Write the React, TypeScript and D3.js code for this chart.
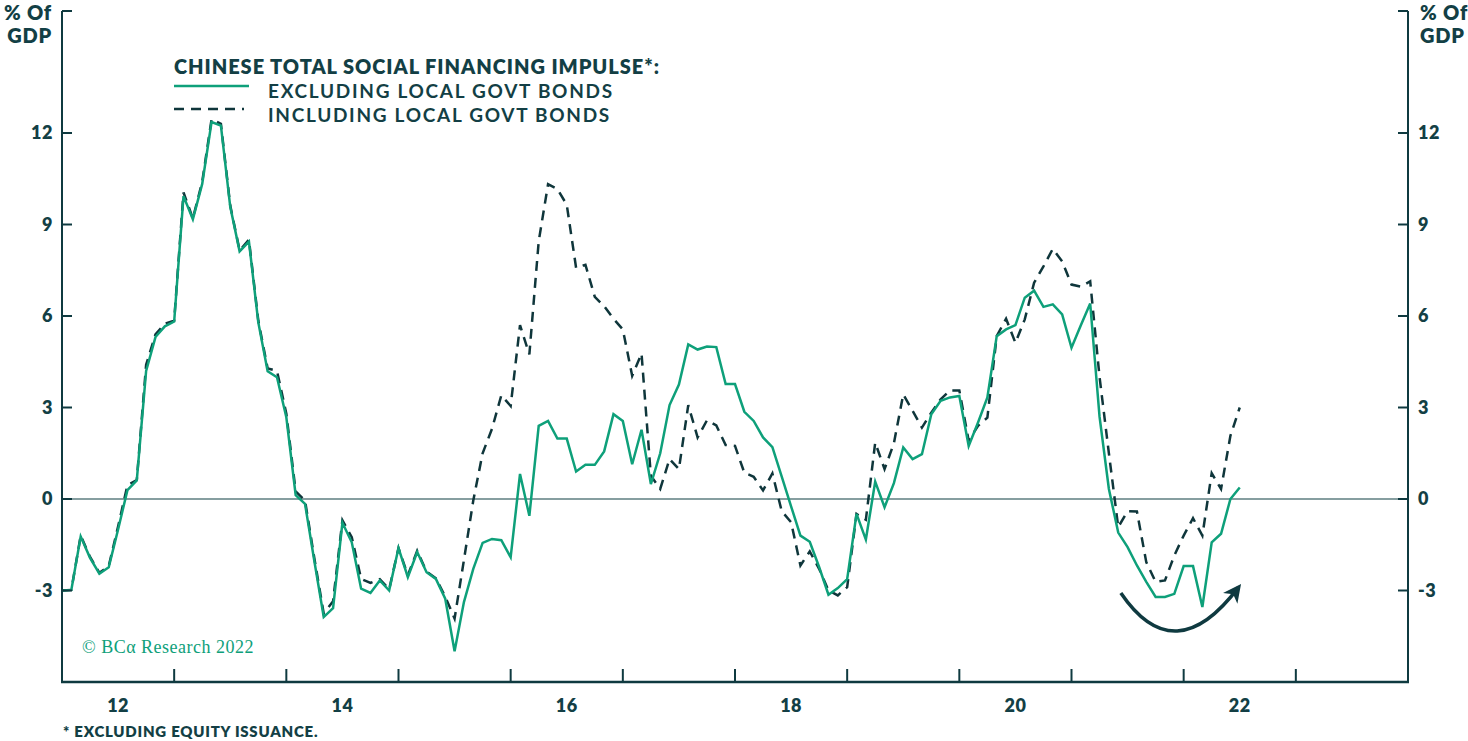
import React from "react";
import * as d3 from "d3";

// Monthly observations, starting January 2012
const START_YEAR = 2012;
const excludingLGB: number[] = [
  -3.0, -2.98, -1.23, -1.93, -2.45, -2.24, -1.0, 0.29, 0.61, 4.2, 5.31, 5.66,
  5.82, 9.93, 9.17, 10.33, 12.36, 12.24, 9.58, 8.12, 8.44, 5.79, 4.19, 3.99,
  2.68, 0.13, -0.16, -2.04, -3.87, -3.58, -0.78, -1.42, -2.94, -3.08, -2.67, -3.0,
  -1.61, -2.56, -1.74, -2.4, -2.62, -3.27, -4.99, -3.38, -2.29, -1.44, -1.31, -1.35,
  -1.91, 0.82, -0.55, 2.4, 2.56, 1.98, 1.98, 0.9, 1.12, 1.12, 1.56, 2.78,
  2.56, 1.14, 2.27, 0.49, 1.5, 3.08, 3.75, 5.07, 4.9, 5.0, 4.98, 3.77,
  3.77, 2.86, 2.56, 2.02, 1.7, 0.73, -0.24, -1.2, -1.4, -2.23, -3.14, -2.92,
  -2.63, -0.49, -1.33, 0.57, -0.27, 0.52, 1.69, 1.31, 1.47, 2.78, 3.22, 3.33,
  3.38, 1.74, 2.51, 3.33, 5.34, 5.56, 5.7, 6.6, 6.83, 6.3, 6.38, 6.05,
  4.96, 5.7, 6.41, 2.7, 0.33, -1.1, -1.58, -2.18, -2.72, -3.21, -3.21, -3.11,
  -2.2, -2.2, -3.54, -1.42, -1.14, 0.0, 0.38,
];
const includingLGB: number[] = [
  -3.0, -2.98, -1.2, -1.9, -2.42, -2.2, -0.9, 0.45, 0.62, 4.4, 5.4, 5.75,
  5.85, 10.05, 9.2, 10.4, 12.45, 12.3, 9.62, 8.15, 8.5, 5.85, 4.28, 4.2,
  2.8, 0.25, -0.05, -1.95, -3.75, -3.35, -0.7, -1.25, -2.62, -2.75, -2.63, -2.96,
  -1.61, -2.5, -1.7, -2.38, -2.6, -3.2, -3.92, -2.0, -0.05, 1.5, 2.3, 3.4,
  3.05, 5.7, 4.74, 8.45, 10.32, 10.16, 9.65, 7.58, 7.68, 6.63, 6.32, 5.91,
  5.56, 4.04, 4.77, 0.76, 0.33, 1.31, 0.98, 3.08, 2.02, 2.58, 2.41, 1.77,
  1.74, 0.86, 0.73, 0.28, 0.84, -0.4, -0.76, -2.18, -1.72, -2.29, -3.0, -3.16,
  -2.89, -0.49, -0.68, 1.85, 0.98, 1.83, 3.43, 2.89, 2.34, 2.83, 3.27, 3.56,
  3.56, 1.91, 2.4, 2.67, 5.34, 5.91, 5.12, 5.89, 7.09, 7.63, 8.2, 7.79,
  7.03, 6.96, 7.14, 4.0, 1.5, -0.92, -0.4, -0.41, -2.07, -2.72, -2.67, -1.85,
  -1.2, -0.63, -1.2, 0.85, 0.33, 2.07, 3.0,
];

const yTicks = [-3, 0, 3, 6, 9, 12];
const yTickMarks = [-3, 0, 3, 6, 9, 12, 16];
const xTickYears = [2012, 2013, 2014, 2015, 2016, 2017, 2018, 2019, 2020, 2021, 2022, 2023, 2024];
const xLabelYears = [2012, 2014, 2016, 2018, 2020, 2022];

const legendTitle = "CHINESE TOTAL SOCIAL FINANCING IMPULSE*:";
const seriesNames = ["EXCLUDING LOCAL GOVT BONDS", "INCLUDING LOCAL GOVT BONDS"];
const unitLines = ["% Of", "GDP"];
const footnote = "* EXCLUDING EQUITY ISSUANCE.";
const copyright = "© BCα Research 2022";

const W = 1468;
const H = 741;
const M = { left: 62, right: 1408, top: 11, bottom: 682 };

const GREEN = "#0ea07a";
const DARK = "#0f363b";
const TEXT = "#133f45";
const AXIS = "#0f3a40";
const ZERO = "#5e7e80";

export default function App() {
  const x = d3.scaleLinear().domain([2012, 2024]).range([M.left, M.right]);
  const y = d3.scaleLinear().domain([-6, 16]).range([M.bottom, M.top]);
  const t = (i: number) => START_YEAR + i / 12;

  const line = d3
    .line<number>()
    .x((_, i) => x(t(i)))
    .y((d) => y(d));

  const font = "Lato, 'DejaVu Sans', sans-serif";

  // annotation arrow (data coordinates)
  const a0 = [x(2021.44), y(-3.08)];
  const ac = [x(2021.92), y(-5.67)];
  const a1 = [x(2022.49), y(-2.89)];

  return (
    <svg
      width={W}
      height={H}
      style={{ position: "absolute", left: 0, top: 0, background: "#fff" }}
      fontFamily={font}
    >
      <defs>
        <marker
          id="ah"
          viewBox="-20 -10 24 20"
          markerWidth={24}
          markerHeight={20}
          refX={-2}
          refY={0}
          orient="auto"
          markerUnits="userSpaceOnUse"
        >
          <path d="M2,0 L-16,-9 L-11,0 L-16,9 Z" fill={AXIS} />
        </marker>
      </defs>

      {/* zero line */}
      <line x1={M.left} x2={M.right} y1={y(0)} y2={y(0)} stroke={ZERO} strokeWidth={1.6} />

      {/* series */}
      <path
        d={line(includingLGB) || ""}
        fill="none"
        stroke={DARK}
        strokeWidth={2.5}
        strokeDasharray="10,7"
        strokeLinejoin="miter"
      />
      <path d={line(excludingLGB) || ""} fill="none" stroke={GREEN} strokeWidth={2.5} strokeLinejoin="miter" />

      {/* axes */}
      <line x1={M.left} x2={M.left} y1={M.top} y2={M.bottom} stroke={AXIS} strokeWidth={2} />
      <line x1={M.right} x2={M.right} y1={M.top} y2={M.bottom} stroke={AXIS} strokeWidth={2} />
      <line x1={M.left - 1} x2={M.right + 1} y1={M.bottom} y2={M.bottom} stroke={AXIS} strokeWidth={2.5} />
      {yTickMarks.map((v) => (
        <g key={"yt" + v}>
          <line x1={M.left} x2={M.left + 10} y1={y(v)} y2={y(v)} stroke={AXIS} strokeWidth={2} />
          <line x1={M.right - 10} x2={M.right} y1={y(v)} y2={y(v)} stroke={AXIS} strokeWidth={2} />
        </g>
      ))}
      {xTickYears.map((yr) => (
        <line key={"xt" + yr} x1={x(yr)} x2={x(yr)} y1={M.bottom} y2={M.bottom - 13} stroke={AXIS} strokeWidth={2} />
      ))}

      {/* tick labels */}
      {yTicks.map((v) => (
        <g key={"yl" + v} fontSize={18} fontWeight={800} fill={TEXT} letterSpacing={0.5}>
          <text x={M.left - 9} y={y(v)} dy="0.36em" textAnchor="end">
            {v}
          </text>
          <text x={M.right + 10} y={y(v)} dy="0.36em" textAnchor="start">
            {v}
          </text>
        </g>
      ))}
      {xLabelYears.map((yr) => (
        <text
          key={"xl" + yr}
          x={x(yr + 0.5)}
          y={712}
          textAnchor="middle"
          fontSize={18}
          fontWeight={800}
          fill={TEXT}
          letterSpacing={0.5}
        >
          {String(yr).slice(2)}
        </text>
      ))}

      {/* units */}
      {unitLines.map((s, i) => (
        <g key={"u" + i} fontSize={20} fontWeight={800} fill={TEXT} letterSpacing={0.8}>
          <text x={52} y={20 + i * 23} textAnchor="end">
            {s}
          </text>
          <text x={1420} y={20 + i * 23} textAnchor="start">
            {s}
          </text>
        </g>
      ))}

      {/* legend */}
      <text x={174} y={74} fontSize={20} fontWeight={800} fill={TEXT} letterSpacing={0.95}>
        {legendTitle}
      </text>
      <line x1={174} x2={249} y1={86} y2={86} stroke={GREEN} strokeWidth={2.5} />
      <line x1={174} x2={244} y1={109} y2={109} stroke={DARK} strokeWidth={2.5} strokeDasharray="10,7" />
      <text x={268} y={98} fontSize={19} fontWeight={700} fill={TEXT} letterSpacing={1.7}>
        {seriesNames[0]}
      </text>
      <text x={268} y={122} fontSize={19} fontWeight={700} fill={TEXT} letterSpacing={1.7}>
        {seriesNames[1]}
      </text>

      {/* copyright */}
      <text
        x={82}
        y={653}
        fontSize={18}
        fontFamily="'Liberation Serif', 'DejaVu Serif', serif"
        fill={GREEN}
        letterSpacing={0.5}
      >
        {copyright}
      </text>

      {/* footnote */}
      <text x={63} y={737} fontSize={15} fontWeight={800} fill={TEXT} letterSpacing={0.75}>
        {footnote}
      </text>

      {/* annotation arrow */}
      <path
        d={`M${a0[0]},${a0[1]} Q${ac[0]},${ac[1]} ${a1[0]},${a1[1]}`}
        fill="none"
        stroke={AXIS}
        strokeWidth={3.5}
        markerEnd="url(#ah)"
      />
    </svg>
  );
}
